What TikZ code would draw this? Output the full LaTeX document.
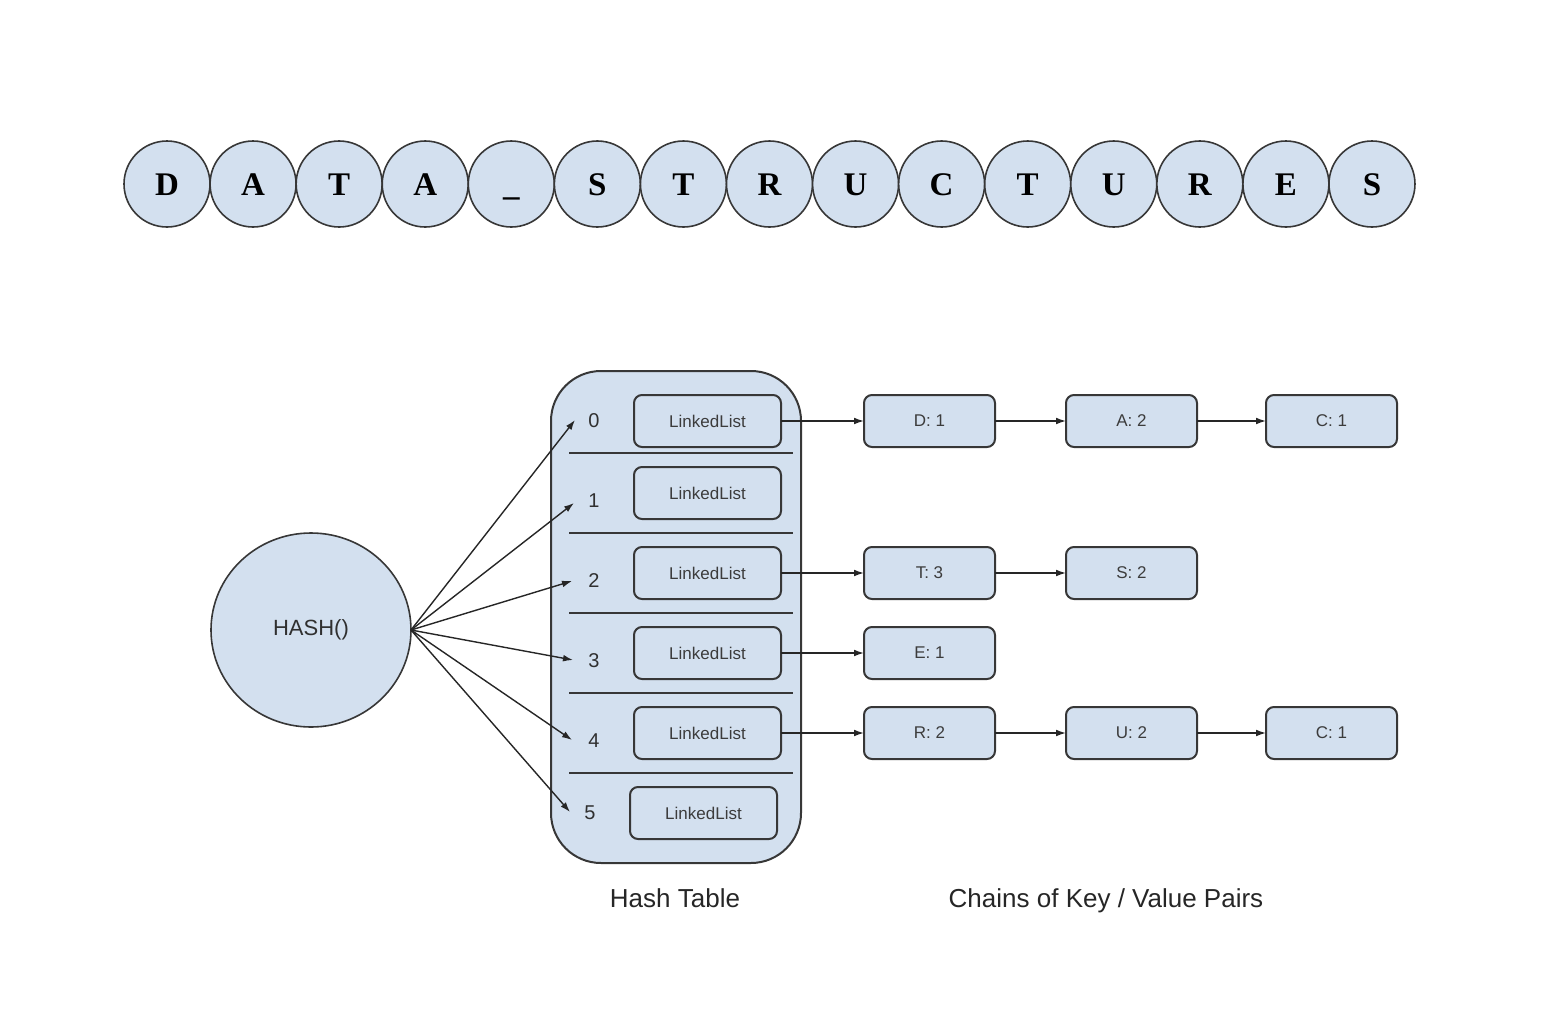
\documentclass[tikz,border=0pt]{standalone}
\usepackage{fontspec}
\setmainfont{Liberation Serif}
\setsansfont{Liberation Sans}
\usetikzlibrary{shapes.geometric,arrows.meta}
\definecolor{boxfill}{RGB}{211,224,239}
\definecolor{edge}{RGB}{55,55,55}
\definecolor{txt}{RGB}{60,60,60}
\tikzset{
  letter/.style={circle,draw=edge,line width=0.8pt,fill=boxfill,minimum size=43pt,inner sep=0pt,outer sep=0pt,
    text height=11pt,text depth=0pt,
    font=\fontsize{16.5}{18}\selectfont\bfseries},
  llbox/.style={rectangle,rounded corners=4pt,draw=edge,line width=1pt,fill=boxfill,minimum width=73.5pt,minimum height=26pt,
    inner sep=0pt,outer sep=0pt,text=txt,font=\sffamily\fontsize{8.5}{10}\selectfont},
  kvbox/.style={llbox,minimum width=65.5pt},
  idx/.style={inner sep=0pt,text=txt!80!black,font=\sffamily\fontsize{10}{12}\selectfont},
  caption/.style={inner sep=0pt,anchor=base,text=black!85,font=\sffamily\fontsize{13}{15}\selectfont},
  link/.style={line width=0.7pt,draw=black!85,-{Latex[length=5pt,width=3.4pt]}},
  divider/.style={line width=1pt,draw=edge}
}
\begin{document}
\begin{tikzpicture}[x=0.5pt,y=-0.5pt]
\useasboundingbox (0,0) rectangle (1544,1034);
% title letters
\foreach \ch [count=\i] in {D,A,T,A,\_,S,T,R,U,C,T,U,R,E,S}{
  \node[letter] (t\i) at ({167+(\i-1)*86.07},184) {\ch};
}
% hash function
\node[ellipse,draw=edge,line width=0.8pt,fill=boxfill,minimum width=100pt,minimum height=97pt,inner sep=0pt,outer sep=0pt,
  font=\sffamily\fontsize{11}{13}\selectfont,text=txt!80!black] (hash) at (311,630) {HASH()};
% hash table container
\node[rectangle,rounded corners=25pt,draw=edge,line width=1pt,fill=boxfill,minimum width=125pt,minimum height=246pt,
  inner sep=0pt,outer sep=0pt] (ht) at (676,617) {};
\foreach \y in {453,533,613,693,773}{
  \draw[divider] (569,\y) -- (793,\y);
}
% indices
\node[idx] (n0) at (594,421) {0};
\node[idx] (n1) at (594,501) {1};
\node[idx] (n2) at (594,581) {2};
\node[idx] (n3) at (594,661) {3};
\node[idx] (n4) at (594,741) {4};
\node[idx] (n5) at (590,813) {5};
% linked lists
\node[llbox] (ll0) at (707.5,421) {LinkedList};
\node[llbox] (ll1) at (707.5,493) {LinkedList};
\node[llbox] (ll2) at (707.5,573) {LinkedList};
\node[llbox] (ll3) at (707.5,653) {LinkedList};
\node[llbox] (ll4) at (707.5,733) {LinkedList};
\node[llbox] (ll5) at (703.5,813) {LinkedList};
% arrow tips from hash
\coordinate (a0) at (575,420);
\coordinate (a1) at (574,503);
\coordinate (a2) at (572,581);
\coordinate (a3) at (573,660);
\coordinate (a4) at (572,740);
\coordinate (a5) at (570,812);
\coordinate (hs) at (411,630);
\foreach \k in {0,...,5}{
  \draw[link] (hs) -- (a\k);
}
% chains
\node[kvbox] (c01) at (929.5,421) {D: 1};
\node[kvbox] (c02) at (1131.5,421) {A: 2};
\node[kvbox] (c03) at (1331.5,421) {C: 1};
\node[kvbox] (c21) at (929.5,573) {T: 3};
\node[kvbox] (c22) at (1131.5,573) {S: 2};
\node[kvbox] (c31) at (929.5,653) {E: 1};
\node[kvbox] (c41) at (929.5,733) {R: 2};
\node[kvbox] (c42) at (1131.5,733) {U: 2};
\node[kvbox] (c43) at (1331.5,733) {C: 1};
\draw[link] (ll0) -- (c01);
\draw[link] (c01) -- (c02);
\draw[link] (c02) -- (c03);
\draw[link] (ll2) -- (c21);
\draw[link] (c21) -- (c22);
\draw[link] (ll3) -- (c31);
\draw[link] (ll4) -- (c41);
\draw[link] (c41) -- (c42);
\draw[link] (c42) -- (c43);
% captions
\node[caption] (cap1) at (675,907) {Hash Table};
\node[caption] (cap2) at (1106,907) {Chains of Key / Value Pairs};
\end{tikzpicture}
\end{document}
